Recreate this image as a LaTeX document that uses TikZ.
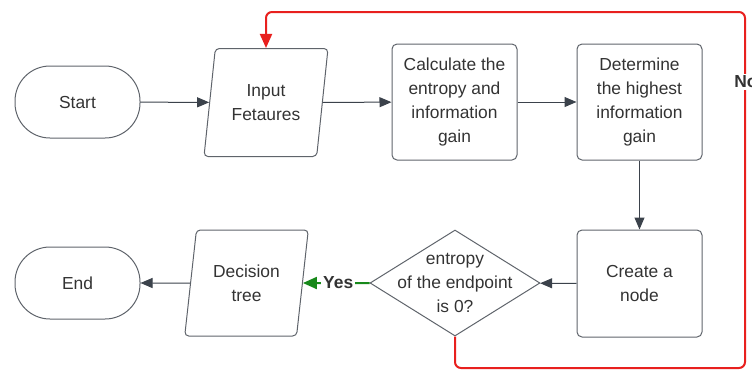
\documentclass[tikz,border=0pt]{standalone}
\usepackage{fontspec}
\setmainfont{Liberation Sans}
\usepackage{tikz}
\usetikzlibrary{shapes.geometric,arrows.meta}
\definecolor{edgegray}{HTML}{5F646B}
\definecolor{arrowgray}{HTML}{3B424B}
\definecolor{txtgray}{HTML}{333333}
\definecolor{noRed}{HTML}{E8201E}
\definecolor{yesGreen}{HTML}{17891A}
\tikzset{
	base/.style={draw=edgegray, line width=0.5pt, text=txtgray, align=center,
		font=\fontsize{8.7}{12}\selectfont, inner sep=0pt},
	terminal/.style={base, rectangle, rounded corners=17.5pt, minimum width=62.5pt, minimum height=36pt},
	process/.style={base, rectangle, rounded corners=2.5pt, minimum width=62.5pt, minimum height=58pt},
	io/.style={base, trapezium, trapezium left angle=78, trapezium right angle=102,
		trapezium stretches=true, rounded corners=2pt, minimum width=62pt, minimum height=54pt},
	decision/.style={base, diamond, minimum width=85pt, minimum height=53pt},
	flow/.style={draw=arrowgray, line width=0.5pt, -{Triangle[length=6pt,width=5pt]}},
	tag/.style={fill=white, inner sep=1pt, text=txtgray, font=\fontsize{8.7}{12}\selectfont\bfseries},
}
\begin{document}
\begin{tikzpicture}[x=0.5pt, y=-0.5pt]
		%%%%% START %%%%%
		\useasboundingbox (0, 0) rectangle (752, 372);
		
		\node[terminal] (start) at (77.5, 102) {Start};
		\node[io] (input) at (266, 102.5) {Input\\Fetaures};
		\node[process] (entropy) at (454.5, 102) {Calculate the\\entropy and\\information\\gain};
		\node[process] (highest) at (639.5, 102) {Determine\\the highest\\information\\gain};
		
		\node[process, minimum height=53.5pt] (create) at (639.5, 283.5) {Create a\\node};
		\node[decision, label={[base, draw=none]center:{entropy\\of the endpoint\\is 0?}}] (check) at (455, 283) {};
		\node[io, minimum height=53pt] (tree) at (246.5, 283) {Decision\\tree};
		\node[terminal] (end) at (77.5, 283) {End};
		
		\draw[flow] (start) -- (input);
		\draw[flow] (input) -- (entropy);
		\draw[flow] (entropy) -- (highest);
		\draw[flow] (highest) -- (create);
		\draw[flow] (create) -- (check);
		\draw[flow] (tree) -- (end);
		
		% yes branch
		\draw[draw=yesGreen, line width=1pt, -{Triangle[length=7pt,width=6pt]}] (check.west) -- (tree.east)
			node[tag, pos=0.47] {Yes};
		
		% no branch back to the input
		\coordinate (lowleft) at (455, 368);
		\coordinate (lowright) at (745, 368);
		\coordinate (topright) at (745, 12);
		\coordinate (topleft) at (266, 12);
		\draw[draw=noRed, line width=1pt, rounded corners=3pt, -{Triangle[length=7pt,width=6pt]}]
			(check.south) -- (lowleft) -- (lowright) -- (topright) -- (topleft) -- (input.north);
		\node[tag] (no) at (746, 82) {No};
		%%%%% END %%%%%
	\end{tikzpicture}
\end{document}
